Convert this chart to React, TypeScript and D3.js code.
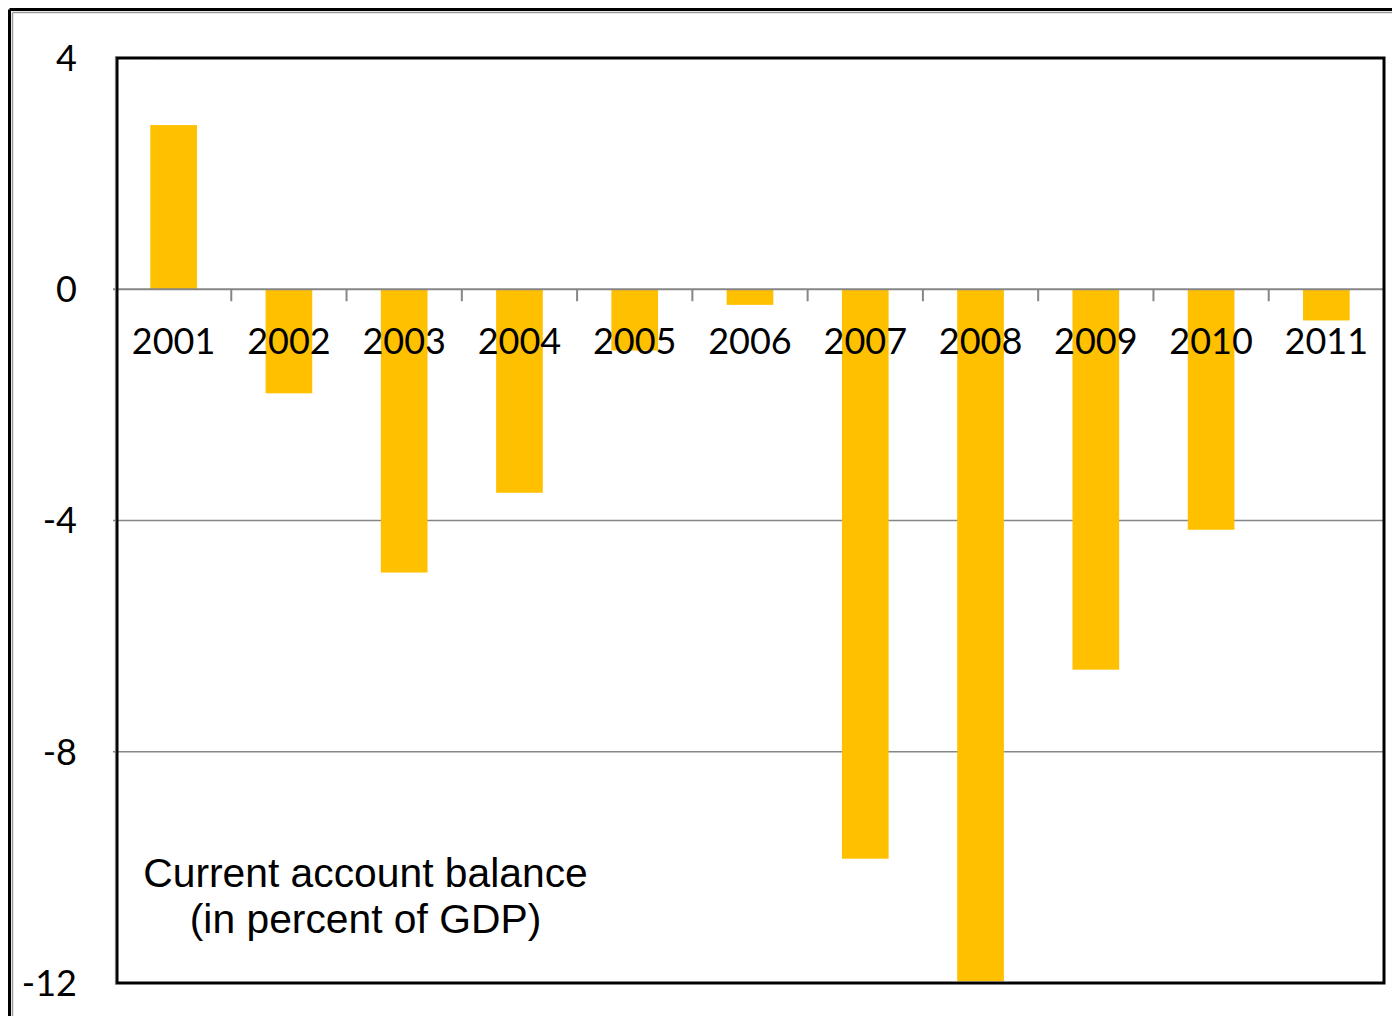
import React from "react";
import * as d3 from "d3";

const years = ["2001","2002","2003","2004","2005","2006","2007","2008","2009","2010","2011"];
const balance = [2.84, -1.8, -4.9, -3.52, -1.06, -0.27, -9.85, -11.97, -6.58, -4.16, -0.54];
const yTicks = [4, 0, -4, -8, -12];
const gridValues = [-4, -8];
const noteLines = ["Current account balance", "(in percent of GDP)"];

const W = 1392, H = 1016;
const plot = { left: 116, right: 1384, top: 58, bottom: 983 };

export default function App() {
  const x = d3.scaleBand<string>().domain(years).range([plot.left, plot.right]).padding(0);
  const y = d3.scaleLinear().domain([-12, 4]).range([plot.bottom, plot.top]);
  const bw = x.bandwidth() * 0.405;
  const y0 = y(0);
  const boundaries = years.slice(1).map((yr) => x(yr)!);
  const labelFont = "Lato, 'DejaVu Sans', sans-serif";
  return (
    <svg width={W} height={H} style={{ position: "absolute", left: 0, top: 0, background: "#fff" }}>
      <rect x={0} y={0} width={W} height={H} fill="#fff" />
      {/* outer frame */}
      <line x1={9.5} y1={9.5} x2={9.5} y2={H} stroke="#000" strokeWidth={3} />
      <line x1={9.5} y1={9.5} x2={W} y2={9.5} stroke="#000" strokeWidth={3} />
      <line x1={12.5} y1={12.5} x2={12.5} y2={H} stroke="#9a9a9a" strokeWidth={1.5} />
      <line x1={12.5} y1={12.5} x2={W} y2={12.5} stroke="#9a9a9a" strokeWidth={1.5} />

      {/* gridlines */}
      {gridValues.map((v) => (
        <line key={v} x1={plot.left - 3} x2={plot.right} y1={y(v)} y2={y(v)} stroke="#868686" strokeWidth={1.5} />
      ))}

      {/* bars */}
      {years.map((yr, i) => {
        const v = balance[i];
        const cx = x(yr)! + x.bandwidth() / 2;
        return (
          <rect key={yr} x={cx - bw / 2} y={Math.min(y(v), y0)} width={bw} height={Math.abs(y(v) - y0)} fill="#FFC000" />
        );
      })}

      {/* zero axis and category ticks */}
      <line x1={plot.left - 3} x2={plot.right} y1={y0} y2={y0} stroke="#868686" strokeWidth={2} />
      {boundaries.map((bx, i) => (
        <line key={i} x1={bx} x2={bx} y1={y0} y2={y0 + 12} stroke="#868686" strokeWidth={2} />
      ))}

      {/* plot border */}
      <rect x={plot.left + 1} y={plot.top} width={plot.right - plot.left - 1} height={plot.bottom - plot.top} fill="none" stroke="#000" strokeWidth={3} />
      <line x1={plot.left - 0.5} x2={plot.left - 0.5} y1={plot.top - 1.5} y2={plot.bottom + 1.5} stroke="#7a7a7a" strokeWidth={1.2} />
      <line x1={plot.left - 0.5} x2={plot.left + 40} y1={plot.top - 1.5} y2={plot.top - 1.5} stroke="#7a7a7a" strokeWidth={1.2} />

      {/* y tick labels */}
      {yTicks.map((v) => (
        <text key={v} x={77} y={y(v)} dy="0.36em" textAnchor="end" fontFamily={labelFont} fontSize={36} fill="#000">
          {String(v)}
        </text>
      ))}

      {/* category labels */}
      {years.map((yr) => (
        <text key={yr} x={x(yr)! + x.bandwidth() / 2} y={354} textAnchor="middle" fontFamily={labelFont} fontSize={36} fill="#000">
          {yr}
        </text>
      ))}

      {/* note */}
      {noteLines.map((t, i) => (
        <text key={i} x={365.5} y={887 + i * 46} textAnchor="middle" fontFamily="'Liberation Sans', Arial, sans-serif" fontSize={40.8} fill="#000">
          {t}
        </text>
      ))}
    </svg>
  );
}
